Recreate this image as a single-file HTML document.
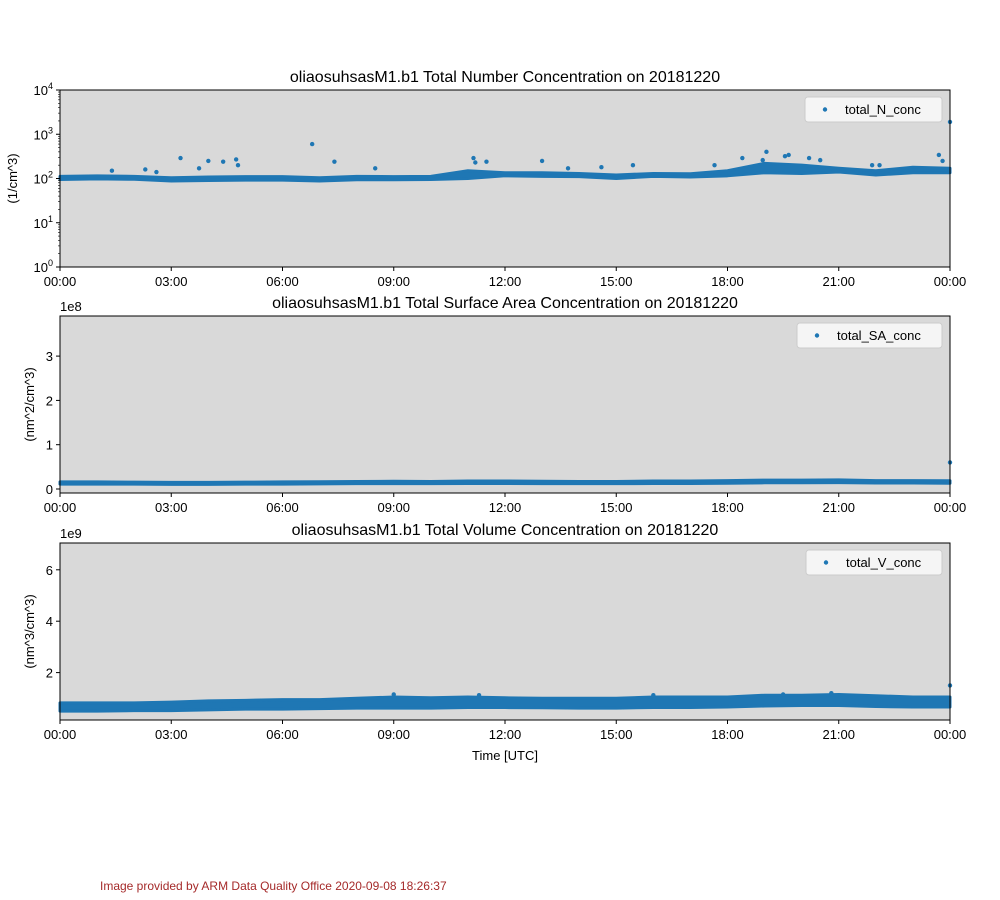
<!DOCTYPE html>
<html><head><meta charset="utf-8"><style>
body{margin:0;background:#fff;}
svg{display:block;font-family:"Liberation Sans","DejaVu Sans",sans-serif;}
</style></head><body>
<svg id="fig" width="1000" height="900"></svg>
<script>
// ---- data (hours 0..24) ----
const hours = [0,1,2,3,4,5,6,7,8,9,10,11,12,13,14,15,16,17,18,19,20,21,22,23,24];
// Panel 1: total N conc (1/cm^3) band
const nLow  = [95,98,96,88,90,92,92,88,94,94,95,100,115,112,110,100,112,108,115,135,130,140,120,135,135];
const nHigh = [112,115,112,104,108,110,110,104,112,110,112,150,135,135,130,120,130,128,150,220,200,170,150,180,170];
const nOutX = [1.4,2.3,2.6,3.25,3.75,4.0,4.4,4.75,4.8,6.8,7.4,8.5,11.15,11.2,11.5,13.0,13.7,14.6,15.45,17.65,18.4,18.95,19.05,19.55,19.65,20.2,20.5,21.9,22.1,23.7,23.8,24.0];
const nOutY = [150,160,140,290,170,250,240,270,200,600,240,170,290,230,240,250,170,180,200,200,290,260,400,320,340,290,260,200,200,340,250,1900];
// Panel 2: total SA conc (x1e8 nm^2/cm^3)
const saLow  = [0.11,0.11,0.11,0.105,0.105,0.11,0.11,0.115,0.12,0.12,0.12,0.125,0.125,0.12,0.12,0.12,0.125,0.125,0.13,0.14,0.14,0.145,0.135,0.135,0.13];
const saHigh = [0.16,0.16,0.155,0.15,0.15,0.155,0.16,0.165,0.17,0.175,0.17,0.18,0.18,0.175,0.17,0.17,0.18,0.18,0.19,0.2,0.2,0.205,0.19,0.19,0.185];
const saOutX = [24.0];
const saOutY = [0.6];
// Panel 3: total V conc (x1e9 nm^3/cm^3)
const vLow  = [0.5,0.5,0.52,0.52,0.55,0.58,0.58,0.6,0.62,0.62,0.62,0.64,0.64,0.63,0.62,0.62,0.64,0.64,0.66,0.7,0.72,0.72,0.68,0.66,0.66];
const vHigh = [0.82,0.82,0.82,0.85,0.9,0.92,0.95,0.95,1.0,1.05,1.02,1.05,1.02,1.0,1.0,1.0,1.05,1.05,1.05,1.12,1.12,1.15,1.1,1.05,1.05];
const vOutX = [9.0,11.3,16.0,19.5,20.8,24.0];
const vOutY = [1.15,1.12,1.12,1.15,1.2,1.5];
const xTicks = ["00:00","03:00","06:00","09:00","12:00","15:00","18:00","21:00","00:00"];

const NS="http://www.w3.org/2000/svg";
const svg=document.getElementById('fig');
function el(t,a,p){const e=document.createElementNS(NS,t);for(const k in a)e.setAttribute(k,a[k]);(p||svg).appendChild(e);return e;}
function txt(s,a,p){const e=el('text',a,p);e.textContent=s;return e;}
const X0=60,X1=950;
const xs=h=>X0+(X1-X0)*h/24;
const C='#1f77b4';

function panel(cfg){
  const g=el('g',{});
  
  
  const bg=el('rect',{x:X0,y:cfg.top,width:X1-X0,height:cfg.bot-cfg.top,fill:'#d9d9d9'},g);
  
  
  const ys=cfg.ys;
  // band
  let pts=[];
  hours.forEach((h,i)=>pts.push(xs(h)+','+ys(cfg.hi[i])));
  for(let i=hours.length-1;i>=0;i--)pts.push(xs(hours[i])+','+ys(cfg.lo[i]));
  const band=el('polygon',{points:pts.join(' '),fill:C,stroke:C,'stroke-width':3,'stroke-linejoin':'round'},g);
  
  
  cfg.ox.forEach((h,i)=>{
    const c=el('circle',{cx:xs(h),cy:ys(cfg.oy[i]),r:2.2,fill:C},g);
    
    
  });
  // frame
  el('rect',{x:X0,y:cfg.top,width:X1-X0,height:cfg.bot-cfg.top,fill:'none',stroke:'#000','stroke-width':1},g);
  // x ticks
  xTicks.forEach((t,i)=>{
    const x=xs(i*3);
    el('line',{x1:x,x2:x,y1:cfg.bot,y2:cfg.bot+4,stroke:'#000'},g);
    const l=txt(t,{x:x,y:cfg.bot+19,'font-size':13,'text-anchor':'middle'},g);
    
    
  });
  cfg.yt.forEach(t=>{
    const y=ys(t.v);
    el('line',{x1:X0-4,x2:X0,y1:y,y2:y,stroke:'#000'},g);
    const l=el('text',{x:X0-7,y:y+5,'font-size':13,'text-anchor':'end'},g);
    l.innerHTML=t.l;
    
    
  });
  (cfg.minor||[]).forEach(v=>{const y=ys(v);el('line',{x1:X0-2,x2:X0,y1:y,y2:y,stroke:'#000','stroke-width':0.6},g);});
  const ti=txt(cfg.title,{x:505,y:cfg.top-8,'font-size':16,'text-anchor':'middle'},g);
  
  
  const yl=txt(cfg.ylab,{x:0,y:0,'font-size':13,'text-anchor':'middle',transform:`translate(${cfg.ylx},${(cfg.top+cfg.bot)/2}) rotate(-90)`},g);
  
  
  if(cfg.mult){const m=txt(cfg.mult,{x:60,y:cfg.top-5,'font-size':13},g);}
  const lg=el('g',{},g);
  
  
  el('rect',{x:cfg.lx,y:cfg.top+7,width:942-cfg.lx,height:25,rx:3,fill:'#f5f5f5',stroke:'#ccc'},lg);
  el('circle',{cx:cfg.lx+20,cy:cfg.top+19.5,r:2.2,fill:C},lg);
  txt(cfg.leg,{x:cfg.lx+40,y:cfg.top+24,'font-size':13},lg);
}

// panel 1 log
panel({name:'n-conc-panel',top:90,bot:267,
  ys:v=>267-(Math.log10(v))*44.25,lo:nLow,hi:nHigh,ox:nOutX,oy:nOutY,
  yt:[0,1,2,3,4].map(k=>({v:Math.pow(10,k),l:'10<tspan dy="-6" font-size="9">'+k+'</tspan>'})),
  minor:[].concat(...[0,1,2,3].map(k=>[2,3,4,5,6,7,8,9].map(m=>m*Math.pow(10,k)))),
  title:'oliaosuhsasM1.b1 Total Number Concentration on 20181220',ylab:'(1/cm^3)',ylx:17,lx:805,leg:'total_N_conc'});
// panel 2
panel({name:'sa-conc-panel',top:316,bot:493,
  ys:v=>489-v*44.3,lo:saLow,hi:saHigh,ox:saOutX,oy:saOutY,
  yt:[0,1,2,3].map(v=>({v:v,l:String(v)})),mult:'1e8',
  title:'oliaosuhsasM1.b1 Total Surface Area Concentration on 20181220',ylab:'(nm^2/cm^3)',ylx:34,lx:797,leg:'total_SA_conc'});
// panel 3
panel({name:'v-conc-panel',top:543,bot:720,
  ys:v=>724-v*25.7,lo:vLow,hi:vHigh,ox:vOutX,oy:vOutY,
  yt:[2,4,6].map(v=>({v:v,l:String(v)})),mult:'1e9',
  title:'oliaosuhsasM1.b1 Total Volume Concentration on 20181220',ylab:'(nm^3/cm^3)',ylx:34,lx:806,leg:'total_V_conc'});

const xl=txt('Time [UTC]',{x:505,y:760,'font-size':13,'text-anchor':'middle'});


const cr=txt('Image provided by ARM Data Quality Office 2020-09-08 18:26:37',{x:100,y:890,'font-size':12,fill:'#a52a2a'});


</script>
</body></html>
